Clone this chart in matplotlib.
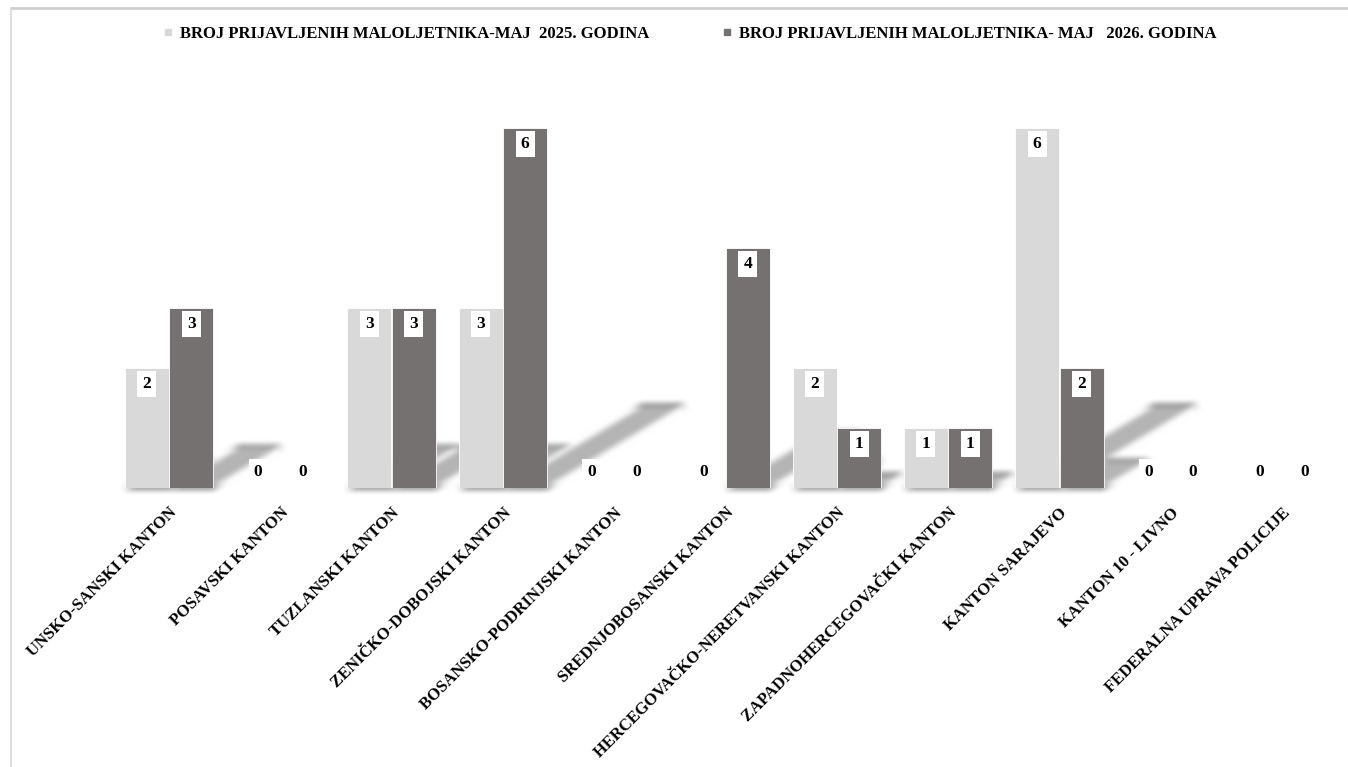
import numpy as np
import matplotlib
matplotlib.use('Agg')
import matplotlib.pyplot as plt
from matplotlib.lines import Line2D
from matplotlib.patches import Polygon

cantons = ['UNSKO-SANSKI KANTON', 'POSAVSKI KANTON', 'TUZLANSKI KANTON',
           'ZENIČKO-DOBOJSKI KANTON', 'BOSANSKO-PODRINJSKI KANTON',
           'SREDNJOBOSANSKI KANTON', 'HERCEGOVAČKO-NERETVANSKI KANTON',
           'ZAPADNOHERCEGOVAČKI KANTON', 'KANTON SARAJEVO', 'KANTON 10 - LIVNO',
           'FEDERALNA UPRAVA POLICIJE']
may_2025 = [2, 0, 3, 3, 0, 0, 2, 1, 6, 0, 0]
may_2026 = [3, 0, 3, 6, 0, 4, 1, 1, 2, 0, 0]
label_2025 = 'BROJ PRIJAVLJENIH MALOLJETNIKA-MAJ  2025. GODINA'
label_2026 = 'BROJ PRIJAVLJENIH MALOLJETNIKA- MAJ   2026. GODINA'

light = '#d9d9d9'
dark = '#767171'
font = 'Liberation Serif'


# soft blur for the bar shadows (agg filter)
def smooth1d(x, window_len):
    s = np.r_[2 * x[0] - x[window_len:1:-1], x, 2 * x[-1] - x[-1:-window_len:-1]]
    w = np.hanning(window_len)
    y = np.convolve(w / w.sum(), s, mode='same')
    return y[window_len - 1:-window_len + 1]


def blur(im, dpi, pad=24, sigma=9):
    a = np.pad(im, [(pad, pad), (pad, pad), (0, 0)], 'constant')
    n = sigma * 2 + 1
    a = np.apply_along_axis(smooth1d, 0, a, n)
    a = np.apply_along_axis(smooth1d, 1, a, n)
    return np.clip(a, 0, 1), -pad, -pad


fig = plt.figure(figsize=(13.48, 7.67), dpi=100)
ax = fig.add_axes([113.4 / 1348, 1 - 488 / 767, 1224.3 / 1348, 360 / 767])

x = np.arange(len(cantons))
w = 0.395
off = 0.2
b1 = ax.bar(x - off, may_2025, w, color=light, edgecolor='white', linewidth=0.6, zorder=3)
b2 = ax.bar(x + off, may_2026, w, color=dark, edgecolor='white', linewidth=0.6, zorder=3)

# perspective shadows cast up and to the right
for bars, vals in ((b1, may_2025), (b2, may_2026)):
    for r, v in zip(bars, vals):
        if v == 0:
            continue
        x0, x1 = r.get_x(), r.get_x() + r.get_width()
        dx = 0.2075 * v
        hs = 0.23 * v
        poly = Polygon([(x0, 0), (x1, 0), (x1 + dx, hs), (x0 + dx, hs)],
                       closed=True, facecolor='#b4b4b4', edgecolor='none', zorder=1)
        poly.set_agg_filter(blur)
        ax.add_patch(poly)

# value labels
for xs, vals in ((x - off, may_2025), (x + off, may_2026)):
    for xi, v in zip(xs, vals):
        ax.annotate(str(v), (xi, v), xytext=(0, -16 if v > 0 else 16),
                    textcoords='offset pixels', ha='center', va='center',
                    fontsize=12.5, fontweight='bold', family=font, color='black',
                    bbox=dict(boxstyle='square,pad=0.3', fc='white', ec='none'),
                    zorder=5)

ax.set_xlim(-0.5, len(cantons) - 0.5)
ax.set_ylim(0, 6)
ax.set_xticks(x)
ax.set_xticklabels(cantons, rotation=45, ha='right', rotation_mode='anchor',
                   fontsize=12, fontweight='bold', family=font)
ax.tick_params(axis='x', length=0, pad=12)
ax.set_yticks([])
for s in ax.spines.values():
    s.set_visible(False)

handles = [Line2D([], [], marker='s', ls='none', color=light, markersize=5),
           Line2D([], [], marker='s', ls='none', color=dark, markersize=5)]
fig.legend(handles, [label_2025, label_2026], loc='center', ncol=2,
           bbox_to_anchor=(689 / 1348, 1 - 34 / 767), frameon=False,
           prop={'family': font, 'weight': 'bold', 'size': 12},
           handlelength=0.8, handletextpad=0.3, columnspacing=4.3)

# chart area border (top and left edges visible)
fig.add_artist(Line2D([11 / 1348, 1], [1 - 8 / 767] * 2, color='#d0d0d0', lw=2))
fig.add_artist(Line2D([11 / 1348] * 2, [0, 1 - 8 / 767], color='#d9d9d9', lw=1.2))

fig.savefig('out.png', dpi=100)
